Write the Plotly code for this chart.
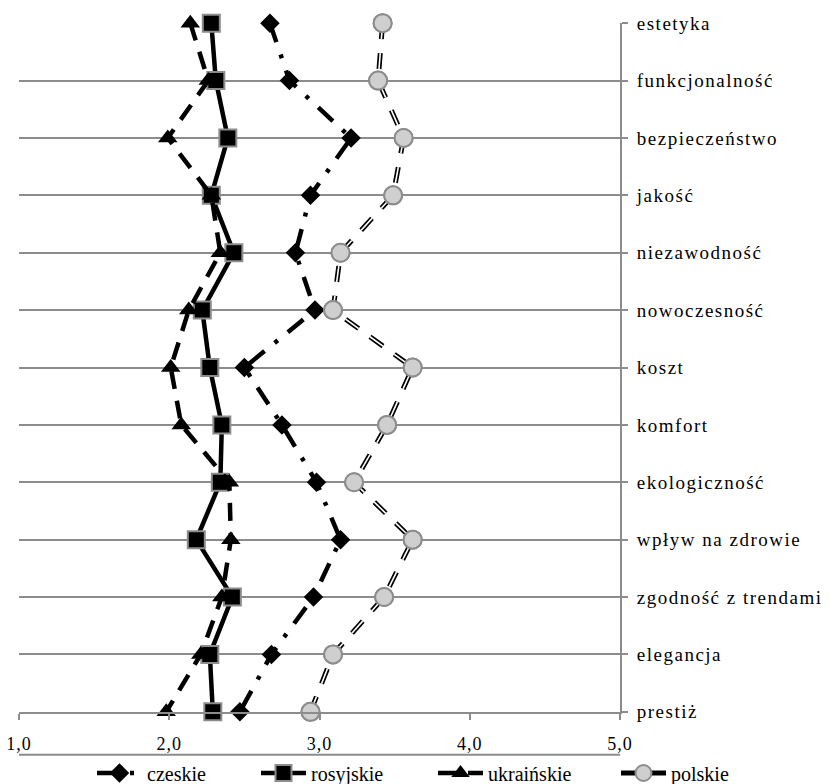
import plotly.graph_objects as go

categories = ["estetyka", "funkcjonalność", "bezpieczeństwo", "jakość", "niezawodność",
              "nowoczesność", "koszt", "komfort", "ekologiczność", "wpływ na zdrowie",
              "zgodność z trendami", "elegancja", "prestiż"]
czeskie = [2.67, 2.80, 3.21, 2.94, 2.84, 2.97, 2.50, 2.75, 2.98, 3.14, 2.96, 2.68, 2.47]
rosyjskie = [2.28, 2.31, 2.39, 2.28, 2.43, 2.22, 2.27, 2.35, 2.34, 2.18, 2.42, 2.27, 2.29]
ukrainskie = [2.14, 2.26, 1.99, 2.28, 2.34, 2.13, 2.01, 2.08, 2.40, 2.41, 2.35, 2.21, 1.98]
polskie = [3.42, 3.39, 3.56, 3.49, 3.14, 3.09, 3.62, 3.45, 3.23, 3.62, 3.43, 3.09, 2.94]
x_ticks = [1, 2, 3, 4, 5]

GRAY = "#8c8c8c"
FONT = "Liberation Serif"

fig = go.Figure()

fig.add_trace(go.Scatter(
    x=czeskie, y=categories, name="czeskie", mode="lines+markers", cliponaxis=False,
    legend="legend",
    line=dict(color="black", width=4.5, dash="20px,13px,4px,13px"),
    marker=dict(symbol="diamond", size=15, color="black", line=dict(width=0))))

fig.add_trace(go.Scatter(
    x=rosyjskie, y=categories, name="rosyjskie", mode="lines+markers", cliponaxis=False,
    legend="legend2",
    line=dict(color="black", width=4.5),
    marker=dict(symbol="square", size=17, color="black", line=dict(width=2, color=GRAY))))

fig.add_trace(go.Scatter(
    x=ukrainskie, y=categories, name="ukraińskie", mode="lines+markers", cliponaxis=False,
    legend="legend3",
    line=dict(color="black", width=4.5, dash="18px,12px"),
    marker=dict(symbol="triangle-up", size=17, color="black", line=dict(width=0))))

fig.add_trace(go.Scatter(
    x=polskie, y=categories, name="polskie", mode="lines+markers", cliponaxis=False,
    legend="legend4",
    line=dict(color="black", width=5, dash="16px,14px"),
    marker=dict(symbol="circle", size=18, color="#cfcfcf", line=dict(width=2, color=GRAY))))

fig.add_trace(go.Scatter(
    x=polskie, y=categories, name="polskie", mode="lines", cliponaxis=False, showlegend=False,
    line=dict(color="white", width=1.6, dash="16px,14px"), hoverinfo="skip"))

fig.add_trace(go.Scatter(
    x=polskie, y=categories, name="polskie", mode="markers", cliponaxis=False, showlegend=False,
    marker=dict(symbol="circle", size=18, color="#cfcfcf", line=dict(width=2, color=GRAY))))

n = len(categories)
W, H = 830, 784


def leg(xpx):
    return dict(orientation="h", x=xpx / W, xanchor="left", xref="container",
                y=(H - 773) / H, yanchor="middle", yref="container",
                font=dict(family=FONT, size=20), itemwidth=45,
                bgcolor="rgba(0,0,0,0)", borderwidth=0)


fig.update_layout(
    width=W, height=H,
    margin=dict(l=19, r=210, t=23, b=72, autoexpand=False),
    paper_bgcolor="white", plot_bgcolor="white",
    separators=", ",
    font=dict(family=FONT, size=19, color="black"),
    showlegend=True,
    legend=leg(92), legend2=leg(256), legend3=leg(433), legend4=leg(616),
    xaxis=dict(range=[1, 5], tickvals=x_ticks, tickformat=".1f",
               showgrid=False, zeroline=False, showline=True, linecolor=GRAY, linewidth=2,
               ticks="outside", ticklen=6, tickcolor=GRAY, tickwidth=2,
               ticklabelstandoff=8, tickfont=dict(family=FONT, size=18)),
    yaxis=dict(type="category", categoryorder="array", categoryarray=categories,
               range=[n - 1 + 0.003, -0.003], side="right",
               showgrid=True, gridcolor=GRAY, gridwidth=2, zeroline=False,
               showline=True, linecolor=GRAY, linewidth=2,
               ticks="outside", ticklen=6, tickcolor=GRAY, tickwidth=2,
               ticklabelstandoff=5, tickfont=dict(family=FONT, size=19)),
    shapes=[dict(type="line", xref="paper", yref="paper", x0=0, x1=1, y0=-0.062, y1=-0.062,
                 line=dict(color=GRAY, width=2))],
)

post = ("var s=document.createElement('style');"
        "s.innerHTML='.ytick text{letter-spacing:1.5px}.xtick text{letter-spacing:1px}';"
        "document.head.appendChild(s);")

fig.write_html("out.html", post_script=post)
